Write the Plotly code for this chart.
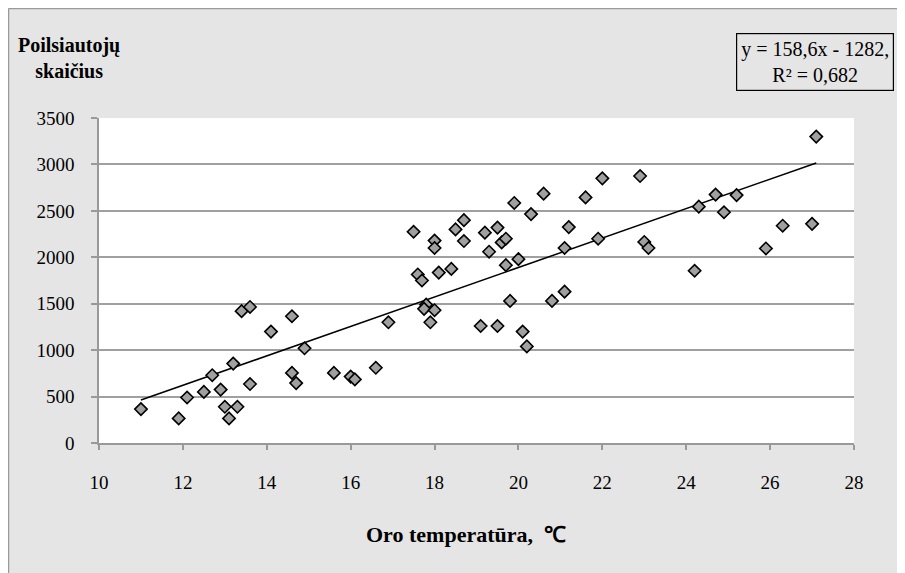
import numpy as np
import plotly.graph_objects as go

# Data: air temperature (°C) vs number of holidaymakers
temperature = [11.0, 11.9, 12.1, 12.5, 12.7, 12.9, 13.0, 13.1, 13.2, 13.3,
               13.4, 13.6, 13.6, 14.1, 14.6, 14.6, 14.7, 14.9, 15.6, 16.0,
               16.1, 16.6, 16.9, 17.5, 17.6, 17.7, 17.8, 17.75, 18.0, 17.9,
               18.0, 18.0, 18.1, 18.4, 18.5, 18.7, 18.7, 19.1, 19.2, 19.3,
               19.5, 19.5, 19.6, 19.7, 19.7, 19.8, 19.9, 20.0, 20.1, 20.2,
               20.3, 20.6, 20.8, 21.1, 21.1, 21.2, 21.6, 21.9, 22.0, 22.9,
               23.0, 23.1, 24.2, 24.3, 24.7, 24.9, 25.2, 25.9, 26.3, 27.0,
               27.1]
visitors = [365, 265, 490, 550, 730, 575, 390, 265, 855, 390,
            1420, 1465, 635, 1200, 1365, 755, 645, 1020, 755, 715,
            685, 810, 1300, 2275, 1815, 1750, 1490, 1445, 1430, 1300,
            2180, 2100, 1835, 1875, 2300, 2400, 2175, 1260, 2265, 2060,
            2320, 1260, 2160, 2200, 1915, 1530, 2585, 1980, 1200, 1040,
            2465, 2685, 1530, 1630, 2100, 2325, 2645, 2200, 2850, 2875,
            2165, 2100, 1855, 2545, 2675, 2485, 2670, 2095, 2340, 2360,
            3300]

SLOPE = 158.6
INTERCEPT = -1282
R2 = 0.682

x_ticks = [10, 12, 14, 16, 18, 20, 22, 24, 26, 28]
y_ticks = [0, 500, 1000, 1500, 2000, 2500, 3000, 3500]

x_title = "Oro temperatūra,  ℃"
y_title = "Poilsiautojų<br>skaičius"
eq_text = "y = 158,6x - 1282,<br>R² = 0,682"

FONT = "Liberation Serif"
OFF = 8  # page body margin
W, H = 905 - OFF, 573 - OFF
L, R, T, B = 91, 51, 110, 130
pw, ph = W - L - R, H - T - B


def px2paper_x(px):
    return (px - OFF - L) / pw


def px2paper_y(py):
    return (H - B - (py - OFF)) / ph


fig = go.Figure()

trend_x = np.array([min(temperature), max(temperature)])
trend_y = SLOPE * trend_x + INTERCEPT
fig.add_trace(go.Scatter(x=trend_x, y=trend_y, mode="lines",
                         line=dict(color="black", width=1.5),
                         hoverinfo="skip", showlegend=False))

fig.add_trace(go.Scatter(x=temperature, y=visitors, mode="markers",
                         marker=dict(symbol="diamond", size=9.5, color="#a0a0a0",
                                     line=dict(color="black", width=1.6)),
                         showlegend=False))

shapes = [
    dict(type="line", xref="paper", yref="paper",
         x0=px2paper_x(8.5), x1=px2paper_x(8.5), y0=px2paper_y(8.5), y1=px2paper_y(H + OFF + 5),
         line=dict(color="#9a9a9a", width=1.5)),
    dict(type="line", xref="paper", yref="paper",
         x0=px2paper_x(8.5), x1=px2paper_x(W + OFF + 5), y0=px2paper_y(8.5), y1=px2paper_y(8.5),
         line=dict(color="#9a9a9a", width=1.5)),
]

annotations = [
    dict(text="<b>" + y_title + "</b>", xref="paper", yref="paper",
         x=px2paper_x(69), y=px2paper_y(58), xanchor="center", yanchor="middle",
         showarrow=False, align="center",
         font=dict(family=FONT, size=20, color="black")),
    dict(text="<b>" + x_title + "</b>", xref="paper", yref="paper",
         x=px2paper_x(466), y=px2paper_y(534), xanchor="center", yanchor="middle",
         showarrow=False, font=dict(family=FONT, size=22, color="black")),
    dict(text=eq_text, xref="paper", yref="paper",
         x=px2paper_x(815), y=px2paper_y(62), xanchor="center", yanchor="middle",
         showarrow=False, align="center", bordercolor="black", borderwidth=1.2,
         borderpad=4, font=dict(family=FONT, size=20, color="black")),
]

fig.update_layout(
    width=W, height=H,
    margin=dict(l=L, r=R, t=T, b=B, pad=0),
    paper_bgcolor="#e5e5e5",
    plot_bgcolor="white",
    shapes=shapes,
    annotations=annotations,
    font=dict(family=FONT, size=18, color="black"),
    xaxis=dict(range=[10, 28], tickvals=x_ticks, ticktext=[str(v) for v in x_ticks],
               showgrid=False, zeroline=False, showline=True, linecolor="#999999",
               linewidth=1.5, ticks="outside", ticklen=5, tickcolor="#999999",
               tickwidth=1.5, ticklabelstandoff=16,
               tickfont=dict(family=FONT, size=19, color="black")),
    yaxis=dict(range=[0, 3500], tickvals=y_ticks, ticktext=[str(v) for v in y_ticks],
               showgrid=True, gridcolor="#a0a0a0", gridwidth=1.5, zeroline=False,
               showline=True, linecolor="#999999", linewidth=1.5,
               ticks="outside", ticklen=6, tickcolor="#999999", tickwidth=1.5,
               ticklabelstandoff=13,
               tickfont=dict(family=FONT, size=19, color="black")),
)

fig.write_html("out.html")
